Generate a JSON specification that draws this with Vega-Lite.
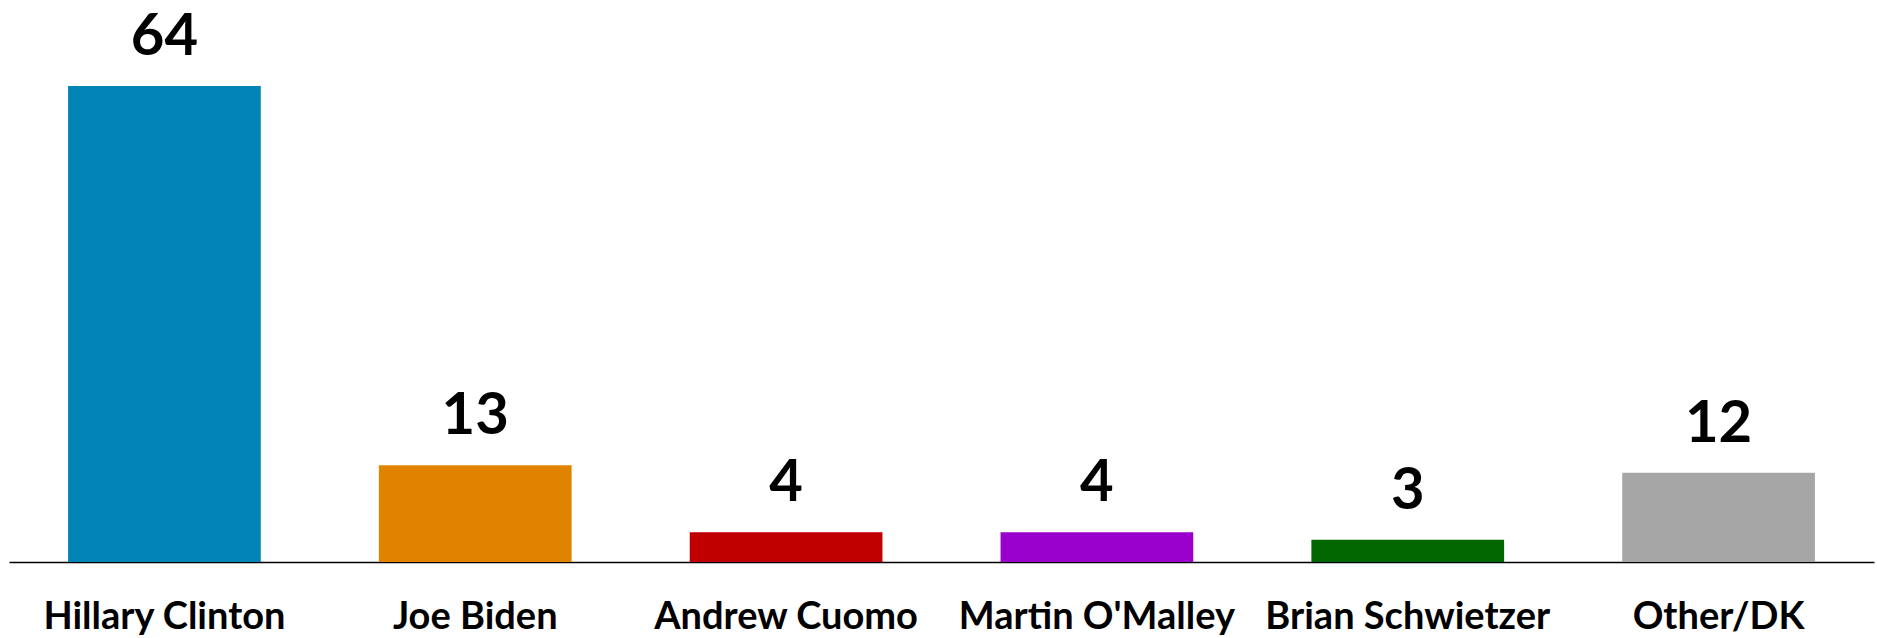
{
  "$schema": "https://vega.github.io/schema/vega-lite/v6.json",
  "width": 1865,
  "height": 476,
  "autosize": {"type": "none"},
  "padding": {"left": 9, "top": 86, "right": 3, "bottom": 76},
  "background": "white",
  "config": {"view": {"stroke": null}, "font": "Lato"},
  "data": {
    "values": [
      {"candidate": "Hillary Clinton", "pct": 64},
      {"candidate": "Joe Biden", "pct": 13},
      {"candidate": "Andrew Cuomo", "pct": 4},
      {"candidate": "Martin O'Malley", "pct": 4},
      {"candidate": "Brian Schwietzer", "pct": 3},
      {"candidate": "Other/DK", "pct": 12}
    ]
  },
  "encoding": {
    "x": {
      "field": "candidate",
      "type": "nominal",
      "sort": null,
      "scale": {"paddingInner": 0.38, "paddingOuter": 0.19},
      "axis": {
        "title": null,
        "labelAngle": 0,
        "ticks": false,
        "domainColor": "black",
        "domainWidth": 1.5,
        "labelFont": "Lato",
        "labelFontWeight": "bold",
        "labelFontSize": 38,
        "labelColor": "black",
        "labelBaseline": "alphabetic",
        "labelPadding": 66,
        "labelOverlap": false,
        "labelLimit": 400
      }
    },
    "y": {
      "field": "pct",
      "type": "quantitative",
      "scale": {"domain": [0, 64], "nice": false},
      "axis": null
    }
  },
  "layer": [
    {
      "mark": {"type": "bar"},
      "encoding": {
        "color": {
          "field": "candidate",
          "type": "nominal",
          "sort": null,
          "scale": {
            "domain": ["Hillary Clinton", "Joe Biden", "Andrew Cuomo", "Martin O'Malley", "Brian Schwietzer", "Other/DK"],
            "range": ["#0285B6", "#E08300", "#C00000", "#9900CC", "#006600", "#A6A6A6"]
          },
          "legend": null
        }
      }
    },
    {
      "mark": {"type": "text", "font": "Lato", "fontWeight": "bold", "fontSize": 58, "color": "black", "baseline": "alphabetic", "dy": -31},
      "encoding": {"text": {"field": "pct", "type": "quantitative"}}
    }
  ]
}
